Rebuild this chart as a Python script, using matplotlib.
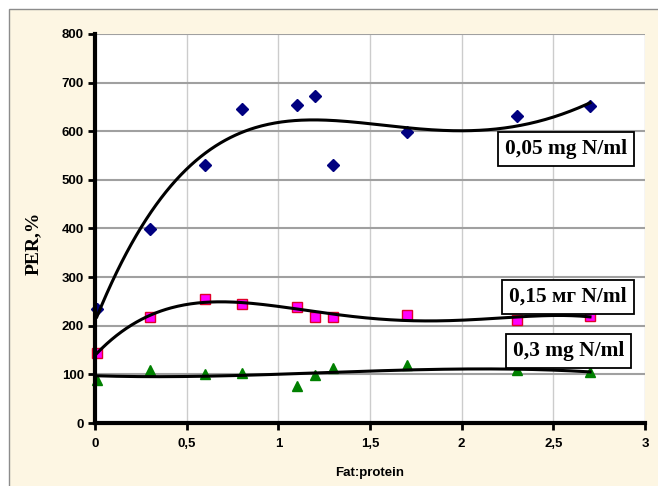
import matplotlib
matplotlib.use("Agg")
import matplotlib.pyplot as plt
from matplotlib.patches import Rectangle
import numpy as np

# fat:protein ratios
ratio = [0.01, 0.3, 0.6, 0.8, 1.1, 1.2, 1.3, 1.7, 2.3, 2.7]

# PER, % for each nitrogen concentration
per_005 = [234, 398, 531, 645, 654, 673, 530, 598, 631, 651]
per_015 = [143, 219, 256, 245, 239, 219, 219, 223, 212, 220]
per_03 = [89, 108, 100, 103, 76, 98, 113, 119, 110, 104]

labels = ["0,05 mg N/ml", "0,15 мг N/ml", "0,3 mg N/ml"]
x_ticks = [0, 0.5, 1, 1.5, 2, 2.5, 3]
x_tick_labels = ["0", "0,5", "1", "1,5", "2", "2,5", "3"]
y_ticks = [0, 100, 200, 300, 400, 500, 600, 700, 800]

W, H = 658, 486
fig = plt.figure(figsize=(W / 100, H / 100), dpi=100)
fig.patch.set_facecolor("white")

# cream chart area with thin gray frame
fig.patches.append(Rectangle((9 / W, -0.01), 1.0, (H - 9) / H + 0.01,
                             transform=fig.transFigure, facecolor="#fdf6e3",
                             edgecolor="#8c8c8c", linewidth=1.0, zorder=-10))

ax = fig.add_axes([95 / W, (H - 423) / H, 550 / W, 389 / H])
ax.set_facecolor("white")
ax.set_xlim(0, 3)
ax.set_ylim(0, 800)

ax.set_xticks(x_ticks)
ax.set_xticklabels(x_tick_labels)
ax.set_yticks(y_ticks)
for lab in ax.get_xticklabels() + ax.get_yticklabels():
    lab.set_fontfamily("Liberation Sans")
    lab.set_fontweight("bold")
    lab.set_fontsize(9.5)

ax.tick_params(axis="both", direction="out", length=5, width=2, color="black")
ax.tick_params(axis="x", pad=6)
ax.tick_params(axis="y", pad=3)

# grid: darker horizontal, lighter vertical
for yv in y_ticks[1:]:
    ax.axhline(yv, color="#a0a0a0", linewidth=1.5, zorder=0.5)
for xv in x_ticks[1:]:
    ax.axvline(xv, color="#cccccc", linewidth=1.0, zorder=0.4)

for side in ["top", "right"]:
    ax.spines[side].set_visible(False)
for side in ["left", "bottom"]:
    ax.spines[side].set_linewidth(3)
    ax.spines[side].set_zorder(5)

x = np.array(ratio)
xs = np.linspace(x.min(), x.max(), 300)

# (values, marker style, trend line order)
series = [
    (per_005, dict(marker="D", color="#000080", markersize=5.8, markeredgecolor="#000080"), 4),
    (per_015, dict(marker="s", color="#ff00ff", markersize=6.5, markeredgecolor="#e0002a", markeredgewidth=1.0), 4),
    (per_03, dict(marker="^", color="#008000", markersize=7.5, markeredgecolor="#008000"), 3),
]

for vals, style, order in series:
    ax.plot(x, vals, linestyle="none", zorder=3, clip_on=False, **style)
    coef = np.polyfit(x, vals, order)
    ax.plot(xs, np.polyval(coef, xs), color="black", linewidth=2.2, zorder=4)

box = dict(boxstyle="square,pad=0.33", facecolor="white", edgecolor="black", linewidth=1.3)
label_pos = [(2.571, 563), (2.581, 260), (2.582, 148)]
for text, (lx, ly) in zip(labels, label_pos):
    ax.text(lx, ly, text, ha="center", va="center", fontsize=15.4,
            fontfamily="Liberation Serif", fontweight="bold", bbox=box, zorder=6)

ax.set_ylabel("PER,%", fontsize=14, fontfamily="Liberation Serif", fontweight="bold")
ax.yaxis.set_label_coords(-0.096, 0.463)
ax.set_xlabel("Fat:protein", fontsize=9.5, fontfamily="Liberation Sans", fontweight="bold")
ax.xaxis.set_label_coords(0.5, -0.113)

fig.savefig("out.png", dpi=100)
